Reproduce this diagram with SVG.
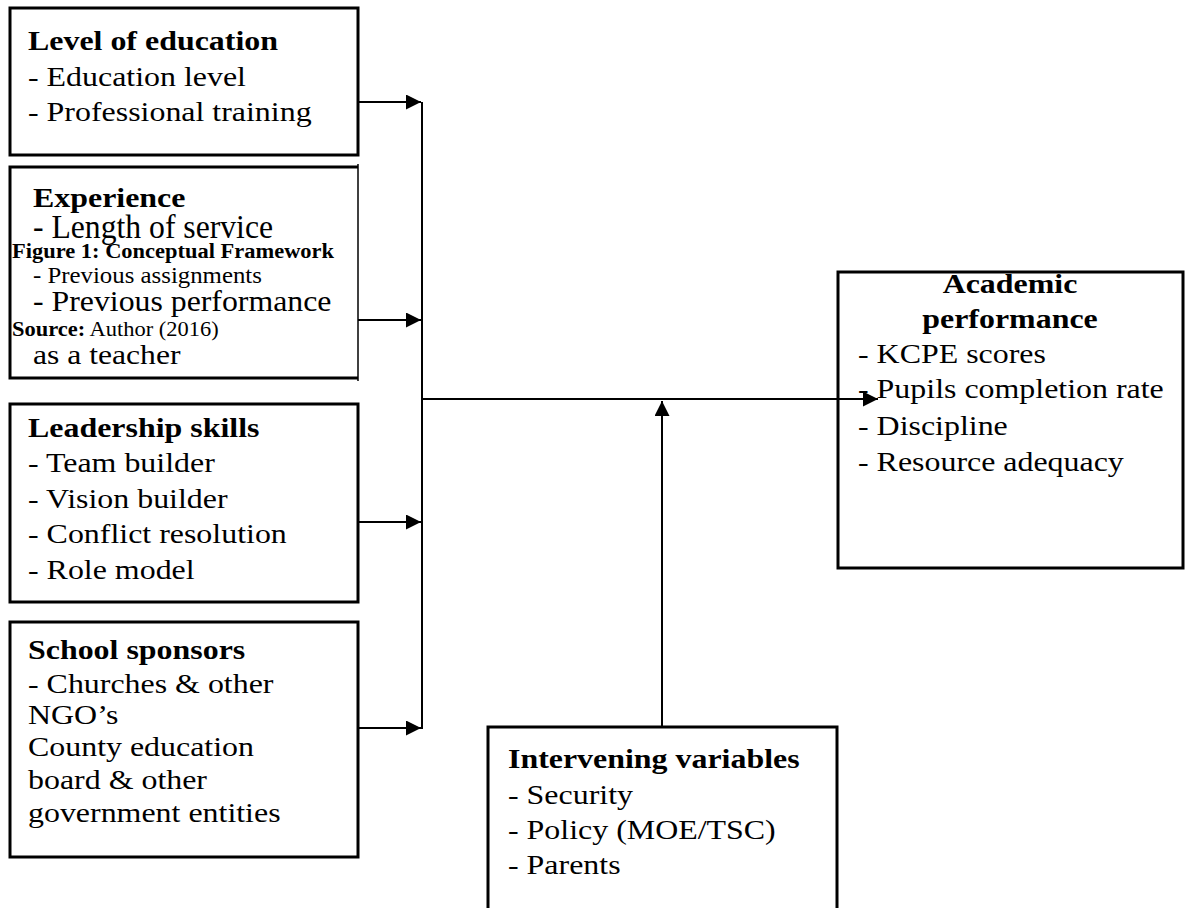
<svg xmlns="http://www.w3.org/2000/svg" width="1191" height="908" viewBox="0 0 1191 908">
<style>
.box{fill:#fff;stroke:#000;stroke-width:3}
.t{font-family:"Liberation Serif","Times New Roman",serif;font-size:28px;fill:#000}
.b{font-weight:bold}
.c{stroke:#000;stroke-width:2;fill:none}
</style>
<defs>
<marker id="ah" viewBox="0 0 15 15" refX="15" refY="7.5" markerWidth="15" markerHeight="15" markerUnits="userSpaceOnUse" orient="auto">
<path d="M0,0 L15,7.5 L0,15 Z" fill="#000"/>
</marker>
</defs>
<rect width="1191" height="908" fill="#fff"/>

<g id="level-of-education">
<rect class="box" x="10" y="8" width="348" height="147"/>
<g transform="translate(28,0) scale(1.14,1)">
<text class="t b" x="0" y="50">Level of education</text>
<text class="t" x="0" y="86">- Education level</text>
<text class="t" x="0" y="121">- Professional training</text>
</g>
</g>

<g id="experience">
<path d="M358,167 L10,167 L10,378 L358,378" fill="#fff" stroke="#000" stroke-width="3"/>
<line x1="358" y1="164" x2="358" y2="381" stroke="#000" stroke-width="1.5"/>
<g transform="translate(33,0) scale(1.14,1)"><text class="t b" x="0" y="207">Experience</text></g>
<g transform="translate(33,0) scale(0.96,1)"><text class="t" style="font-size:33px" x="0" y="238">- Length of service</text></g>
<g transform="translate(12,0) scale(1.07,1)"><text class="t b" style="font-size:21px" x="0" y="258">Figure 1: Conceptual Framework</text></g>
<g transform="translate(33,0) scale(1.08,1)"><text class="t" style="font-size:23px" x="0" y="283">- Previous assignments</text></g>
<g transform="translate(33,0) scale(1.06,1)"><text class="t" style="font-size:30px" x="0" y="311">- Previous performance</text></g>
<g transform="translate(12,0) scale(1.07,1)"><text class="t" style="font-size:21px" x="0" y="336"><tspan class="b">Source:</tspan> Author (2016)</text></g>
<g transform="translate(33,0) scale(1.13,1)"><text class="t" x="0" y="364">as a teacher</text></g>
</g>

<g id="leadership-skills">
<rect class="box" x="10" y="404" width="348" height="198"/>
<g transform="translate(28,0) scale(1.14,1)">
<text class="t b" x="0" y="437">Leadership skills</text>
<text class="t" x="0" y="472">- Team builder</text>
<text class="t" x="0" y="508">- Vision builder</text>
<text class="t" x="0" y="543">- Conflict resolution</text>
<text class="t" x="0" y="579">- Role model</text>
</g>
</g>

<g id="school-sponsors">
<rect class="box" x="10" y="622" width="348" height="235"/>
<g transform="translate(28,0) scale(1.14,1)">
<text class="t b" x="0" y="659">School sponsors</text>
<text class="t" x="0" y="693">- Churches &amp; other</text>
<text class="t" x="0" y="724">NGO’s</text>
<text class="t" x="0" y="756">County education</text>
<text class="t" x="0" y="789">board &amp; other</text>
<text class="t" x="0" y="822">government entities</text>
</g>
</g>

<g id="academic-performance">
<rect class="box" x="838" y="272" width="345" height="296"/>
<g transform="translate(1010,0) scale(1.14,1)">
<text class="t b" x="0" y="293" text-anchor="middle">Academic</text>
<text class="t b" x="0" y="328" text-anchor="middle">performance</text>
</g>
<g transform="translate(858,0) scale(1.14,1)">
<text class="t" x="0" y="363">- KCPE scores</text>
<text class="t" x="0" y="398">- Pupils completion rate</text>
<text class="t" x="0" y="435">- Discipline</text>
<text class="t" x="0" y="471">- Resource adequacy</text>
</g>
</g>

<g id="intervening-variables">
<rect class="box" x="488" y="727" width="349" height="200"/>
<g transform="translate(508,0) scale(1.14,1)">
<text class="t b" x="0" y="768">Intervening variables</text>
<text class="t" x="0" y="804">- Security</text>
<text class="t" x="0" y="839">- Policy (MOE/TSC)</text>
<text class="t" x="0" y="874">- Parents</text>
</g>
</g>

<g id="connectors">
<line class="c" x1="422" y1="102" x2="422" y2="729"/>
<line class="c" x1="358" y1="102" x2="421" y2="102" marker-end="url(#ah)"/>
<line class="c" x1="358" y1="320" x2="421" y2="320" marker-end="url(#ah)"/>
<line class="c" x1="358" y1="522" x2="421" y2="522" marker-end="url(#ah)"/>
<line class="c" x1="358" y1="728" x2="421" y2="728" marker-end="url(#ah)"/>
<line class="c" x1="422" y1="399" x2="878" y2="399" marker-end="url(#ah)"/>
<line class="c" x1="662" y1="727" x2="662" y2="401" marker-end="url(#ah)"/>
</g>
</svg>
